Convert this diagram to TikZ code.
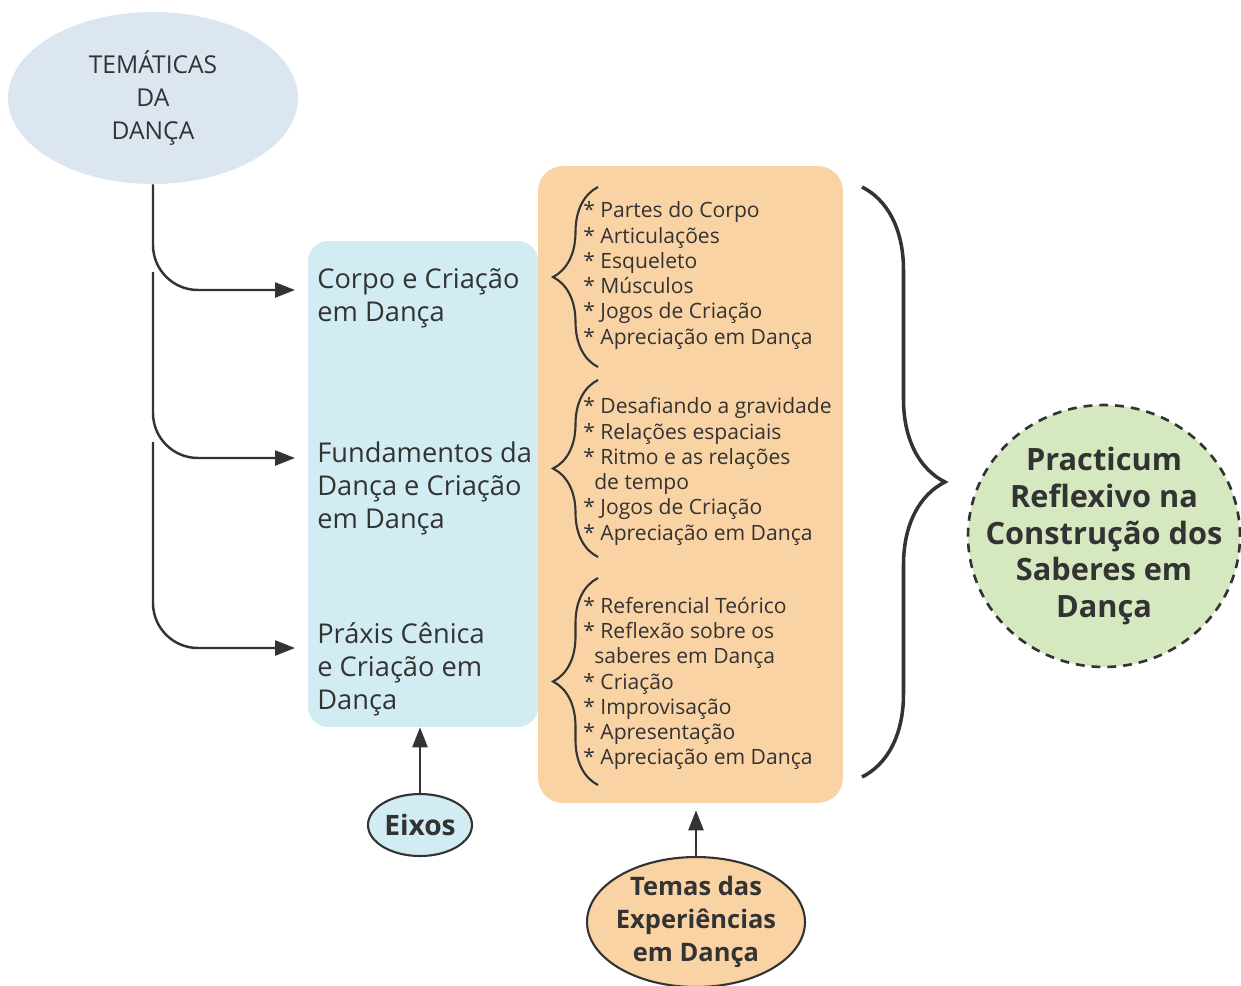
\documentclass[tikz,border=0pt]{standalone}
\usepackage{fontspec}
\setmainfont{Open Sans}
\usetikzlibrary{arrows.meta,shapes.geometric,decorations.pathreplacing}
\definecolor{tinta}{HTML}{333333}
\definecolor{cinzaazul}{HTML}{DCE6F1}
\definecolor{azul}{HTML}{D2ECF3}
\definecolor{laranja}{HTML}{FAD3A4}
\definecolor{verde}{HTML}{D5E8BF}
\tikzset{seta/.style={-{Triangle[length=0.4cm,width=0.3cm]}, draw=tinta, line width=1.4pt},
	eixo/.style={anchor=west, inner sep=0pt, align=left, text=tinta, font=\fontsize{15.5}{18.8}\selectfont},
	lista/.style={anchor=west, inner sep=0pt, align=left, text=tinta, font=\fontsize{12}{14.4}\selectfont},
	bolha/.style={ellipse, draw=tinta, line width=1.2pt, inner sep=-0.4cm, align=center, text=tinta, font=\bfseries\fontsize{#1}{18.8}\selectfont},
	bolha/.default={14.5},
	chave/.style={decorate, decoration={brace, amplitude=#1}, draw=tinta, line width=1.2pt},
	chave/.default={0.9cm}}
\begin{document}
\begin{tikzpicture}[x=0.02cm,y=-0.02cm]
	\useasboundingbox (0,0) rectangle (1241,985);
	\node[ellipse, fill=cinzaazul, minimum width=5.8cm, minimum height=3.44cm, align=center, text=tinta,
		font=\fontsize{14}{18.8}\selectfont] (tema) at (153,98) {TEMÁTICAS\\DA\\DANÇA}; %top bubble
	\node[fill=laranja, rounded corners=0.5cm, minimum width=6.1cm, minimum height=12.74cm] (caixaExp) at (690.5,484.5) {};
	\node[fill=azul, rounded corners=0.4cm, minimum width=4.6cm, minimum height=9.72cm] (caixaEixo) at (423,484) {};
	% the three axes
	\node[eixo] (corpo) at (317,298.5) {Corpo e Criação\\em Dança};
	\node[eixo] (fund) at (317,488) {Fundamentos da\\Dança e Criação\\em Dança};
	\node[eixo] (praxis) at (317,669) {Práxis Cênica\\e Criação em\\Dança};
	\coordinate (ramo2) at (153,272);
	\coordinate (ramo3) at (153,442);
	\draw[seta, rounded corners=0.9cm] (tema.south) |- ([xshift=-0.44cm,yshift=0.17cm]corpo.west);
	\draw[seta, rounded corners=0.9cm] (ramo2) |- ([xshift=-0.44cm,yshift=0.6cm]fund.west);
	\draw[seta, rounded corners=0.9cm] (ramo3) |- ([xshift=-0.44cm,yshift=0.42cm]praxis.west);
	% the lists of themes
	\node[lista] (lista1) at (583,275.5) {* Partes do Corpo\\* Articulações\\* Esqueleto\\* Músculos\\* Jogos de Criação\\* Apreciação em Dança};
	\node[lista] (lista2) at (583,471.5) {* Desafiando a gravidade\\* Relações espaciais\\* Ritmo e as relações\\\ \ de tempo\\* Jogos de Criação\\* Apreciação em Dança};
	\node[lista] (lista3) at (583,683.5) {* Referencial Teórico\\* Reflexão sobre os\\\ \ saberes em Dança\\* Criação\\* Improvisação\\* Apresentação\\* Apreciação em Dança};
	\draw[chave] (598,367) -- (598,187); %brace of list 1
	\draw[chave] (598,557) -- (598,380);
	\draw[chave] (598,785) -- (598,578);
	\draw[chave=1.66cm, line width=2pt] (862,187) -- (862,777); %big brace
	\node[ellipse, fill=verde, draw=tinta, line width=1.5pt, dash pattern=on 5pt off 4pt, inner sep=-1cm,
		minimum width=5.44cm, minimum height=5.24cm,
		align=center, text=tinta, font=\bfseries\fontsize{17.5}{21}\selectfont] (saber) at (1104,536)
		{Practicum\\Reflexivo na\\Construção dos\\Saberes em\\Dança};
	% bottom bubbles
	\node[bolha=16, fill=azul, minimum width=2.08cm, minimum height=1.24cm] (eixos) at (420,825) {Eixos};
	\node[bolha, fill=laranja, minimum width=4.36cm, minimum height=2.6cm] (temas) at (696,922) {Temas das\\Experiências\\em Dança};
	\draw[seta] (eixos.north) -- (eixos.north |- caixaEixo.south);
	\draw[seta, shorten >=0.14cm] (temas.north) -- (temas.north |- caixaExp.south);
\end{tikzpicture}
\end{document}
